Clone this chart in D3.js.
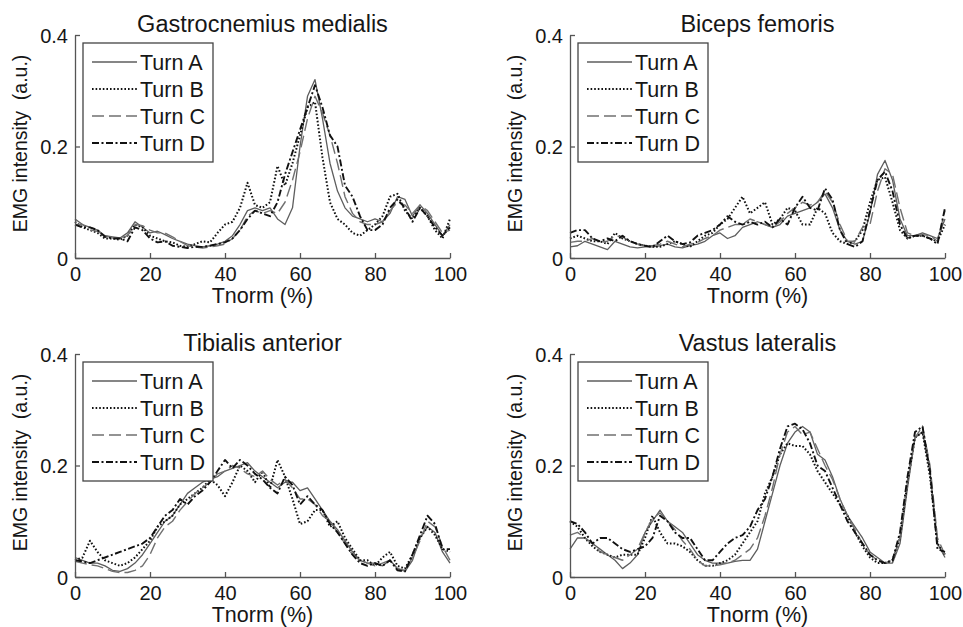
<!DOCTYPE html>
<html>
<head>
<meta charset="utf-8">
<script src="https://cdn.jsdelivr.net/npm/d3@7"></script>
<style>
  body { margin: 0; background: #fff; }
  text { font-family: "Liberation Sans", Arial, sans-serif; fill: #161616; }
</style>
</head>
<body>
<div id="chart"></div>
<script>
// Tnorm (%) sample points
var tnorm = [0,2,4,6,8,10,12,14,16,18,20,22,24,26,28,30,32,34,36,38,40,42,44,46,48,50,
             52,54,56,58,60,62,64,66,68,70,72,74,76,78,80,82,84,86,88,90,92,94,96,98,100];

var turns = ["Turn A", "Turn B", "Turn C", "Turn D"];
var titles = ["Gastrocnemius medialis", "Biceps femoris", "Tibialis anterior", "Vastus lateralis"];
var xTicks = [0, 20, 40, 60, 80, 100];
var yTicks = [0, 0.2, 0.4];

// Gastrocnemius medialis
var gmA = [0.07,0.06,0.055,0.05,0.04,0.038,0.036,0.045,0.065,0.055,0.045,0.048,0.042,0.035,0.03,0.025,0.022,0.02,0.022,0.025,0.03,0.04,0.06,0.085,0.09,0.085,
           0.09,0.07,0.06,0.09,0.2,0.29,0.32,0.25,0.17,0.12,0.09,0.075,0.07,0.065,0.07,0.065,0.08,0.11,0.105,0.075,0.095,0.08,0.06,0.04,0.06];
var gmB = [0.065,0.055,0.05,0.045,0.035,0.035,0.033,0.04,0.06,0.055,0.04,0.035,0.03,0.028,0.022,0.02,0.025,0.03,0.028,0.045,0.06,0.065,0.09,0.135,0.095,0.09,
           0.1,0.165,0.13,0.17,0.22,0.27,0.28,0.18,0.1,0.07,0.06,0.045,0.04,0.05,0.06,0.075,0.11,0.115,0.085,0.07,0.09,0.075,0.05,0.035,0.07];
var gmC = [0.06,0.06,0.05,0.048,0.04,0.036,0.035,0.04,0.06,0.058,0.05,0.045,0.045,0.038,0.03,0.022,0.02,0.018,0.02,0.022,0.025,0.035,0.05,0.075,0.085,0.08,
           0.085,0.08,0.1,0.14,0.19,0.25,0.29,0.26,0.22,0.17,0.11,0.08,0.065,0.06,0.06,0.065,0.085,0.1,0.095,0.08,0.095,0.085,0.065,0.045,0.05];
var gmD = [0.06,0.055,0.055,0.05,0.038,0.035,0.035,0.03,0.055,0.05,0.035,0.028,0.03,0.022,0.02,0.018,0.02,0.02,0.022,0.025,0.028,0.035,0.05,0.07,0.085,0.08,
           0.075,0.1,0.15,0.19,0.23,0.27,0.31,0.27,0.22,0.2,0.13,0.11,0.075,0.05,0.05,0.06,0.09,0.105,0.09,0.065,0.09,0.075,0.055,0.04,0.055];

// Biceps femoris
var bfA = [0.02,0.022,0.03,0.025,0.02,0.015,0.03,0.025,0.02,0.018,0.02,0.02,0.022,0.025,0.02,0.018,0.022,0.025,0.03,0.04,0.045,0.035,0.04,0.055,0.06,0.065,
           0.06,0.055,0.06,0.075,0.08,0.085,0.09,0.1,0.115,0.09,0.05,0.03,0.025,0.03,0.08,0.15,0.175,0.14,0.07,0.04,0.04,0.045,0.04,0.035,0.07];
var bfB = [0.035,0.04,0.035,0.03,0.03,0.025,0.045,0.035,0.03,0.025,0.022,0.02,0.02,0.025,0.03,0.025,0.02,0.03,0.04,0.045,0.06,0.07,0.09,0.11,0.08,0.09,
           0.1,0.06,0.07,0.09,0.085,0.06,0.06,0.09,0.08,0.045,0.03,0.025,0.03,0.05,0.1,0.14,0.145,0.1,0.05,0.035,0.04,0.04,0.035,0.03,0.06];
var bfC = [0.028,0.03,0.03,0.035,0.028,0.03,0.04,0.038,0.03,0.025,0.022,0.022,0.025,0.03,0.025,0.02,0.025,0.028,0.035,0.04,0.05,0.055,0.06,0.06,0.07,0.065,
           0.06,0.055,0.065,0.08,0.09,0.1,0.095,0.1,0.12,0.1,0.06,0.03,0.03,0.055,0.06,0.12,0.16,0.15,0.09,0.045,0.04,0.042,0.04,0.03,0.085];
var bfD = [0.045,0.05,0.05,0.035,0.03,0.035,0.03,0.04,0.03,0.025,0.022,0.02,0.03,0.04,0.03,0.025,0.028,0.04,0.045,0.05,0.06,0.075,0.065,0.06,0.065,0.06,
           0.065,0.055,0.07,0.06,0.09,0.11,0.09,0.085,0.125,0.105,0.05,0.025,0.02,0.03,0.085,0.14,0.155,0.12,0.06,0.035,0.04,0.04,0.035,0.025,0.09];

// Tibialis anterior
var taA = [0.035,0.03,0.025,0.025,0.02,0.012,0.01,0.015,0.025,0.04,0.06,0.08,0.1,0.11,0.13,0.15,0.16,0.17,0.175,0.18,0.19,0.195,0.2,0.205,0.19,0.18,
           0.17,0.16,0.17,0.17,0.155,0.16,0.14,0.12,0.1,0.085,0.065,0.045,0.03,0.025,0.025,0.02,0.03,0.015,0.01,0.03,0.07,0.09,0.08,0.045,0.025];
var taB = [0.03,0.035,0.065,0.045,0.03,0.025,0.02,0.025,0.035,0.05,0.065,0.09,0.1,0.11,0.13,0.14,0.15,0.16,0.175,0.165,0.145,0.17,0.2,0.19,0.17,0.19,
           0.16,0.21,0.18,0.14,0.095,0.1,0.12,0.12,0.09,0.1,0.07,0.05,0.03,0.03,0.02,0.035,0.045,0.02,0.015,0.04,0.07,0.09,0.075,0.05,0.045];
var taC = [0.028,0.025,0.022,0.02,0.015,0.01,0.008,0.008,0.012,0.02,0.04,0.07,0.09,0.1,0.12,0.135,0.15,0.16,0.17,0.185,0.19,0.2,0.195,0.185,0.18,0.19,
           0.175,0.165,0.175,0.16,0.14,0.14,0.13,0.11,0.1,0.08,0.06,0.04,0.03,0.025,0.02,0.025,0.03,0.015,0.012,0.035,0.065,0.1,0.09,0.055,0.03];
var taD = [0.03,0.028,0.025,0.03,0.035,0.04,0.045,0.05,0.055,0.06,0.07,0.09,0.11,0.12,0.14,0.13,0.145,0.155,0.17,0.19,0.21,0.195,0.21,0.2,0.185,0.175,
           0.16,0.15,0.18,0.165,0.13,0.145,0.13,0.12,0.095,0.08,0.06,0.04,0.025,0.02,0.025,0.02,0.03,0.012,0.01,0.04,0.075,0.11,0.095,0.05,0.05];

// Vastus lateralis
var vlA = [0.05,0.07,0.07,0.06,0.05,0.04,0.03,0.015,0.025,0.04,0.08,0.1,0.12,0.1,0.09,0.08,0.06,0.04,0.03,0.025,0.025,0.025,0.028,0.03,0.03,0.05,
           0.1,0.15,0.2,0.24,0.26,0.27,0.26,0.22,0.21,0.18,0.14,0.11,0.09,0.07,0.045,0.035,0.025,0.025,0.06,0.16,0.25,0.26,0.19,0.06,0.035];
var vlB = [0.1,0.09,0.07,0.055,0.045,0.04,0.035,0.04,0.04,0.04,0.07,0.11,0.08,0.06,0.06,0.055,0.045,0.03,0.02,0.02,0.025,0.03,0.04,0.06,0.08,0.1,
           0.15,0.18,0.22,0.24,0.235,0.235,0.22,0.19,0.17,0.15,0.13,0.11,0.08,0.055,0.035,0.025,0.025,0.03,0.07,0.17,0.25,0.26,0.18,0.06,0.04];
var vlC = [0.075,0.08,0.07,0.06,0.045,0.04,0.035,0.03,0.04,0.05,0.08,0.105,0.115,0.1,0.085,0.065,0.05,0.03,0.02,0.02,0.022,0.025,0.03,0.04,0.05,0.07,
           0.11,0.16,0.22,0.26,0.27,0.255,0.26,0.23,0.2,0.175,0.14,0.11,0.085,0.06,0.04,0.03,0.025,0.03,0.07,0.17,0.25,0.27,0.2,0.07,0.04];
var vlD = [0.1,0.095,0.08,0.06,0.07,0.07,0.06,0.05,0.045,0.05,0.055,0.07,0.11,0.1,0.08,0.07,0.07,0.05,0.03,0.03,0.045,0.06,0.07,0.075,0.09,0.12,
           0.14,0.18,0.23,0.27,0.275,0.265,0.24,0.2,0.19,0.16,0.13,0.1,0.08,0.06,0.04,0.03,0.025,0.03,0.08,0.18,0.26,0.27,0.19,0.05,0.045];

var panelData = [[gmA, gmB, gmC, gmD], [bfA, bfB, bfC, bfD], [taA, taB, taC, taD], [vlA, vlB, vlC, vlD]];

// line look for each turn (grey-scale, like the printed figure)
var styles = [
  { stroke: "#5e5e5e", width: 1.3, dash: null },
  { stroke: "#111", width: 2, dash: "1.6,2" },
  { stroke: "#707070", width: 1.4, dash: "12,5" },
  { stroke: "#111", width: 1.9, dash: "7,2.5,2,2.5" }
];

var W = 963, H = 627;
var svg = d3.select("#chart").append("svg").attr("width", W).attr("height", H);

var panelW = 375, panelH = 223;
var origins = [[75, 35], [570, 35], [75, 354], [570, 354]];

function drawPanel(i){
    var g = svg.append("g").attr("transform", "translate(" + origins[i][0] + "," + origins[i][1] + ")");
    var x = d3.scaleLinear().domain([0, 100]).range([0, panelW]);
    var y = d3.scaleLinear().domain([0, 0.4]).range([panelH, 0]);

    // curves first, axes on top
    var line = d3.line().x(function(d, k){ return x(tnorm[k]); }).y(function(d){ return y(d); });
    panelData[i].forEach(function(series, s){
        g.append("path")
          .datum(series)
          .attr("d", line)
          .attr("fill", "none")
          .attr("stroke", styles[s].stroke)
          .attr("stroke-width", styles[s].width)
          .attr("stroke-dasharray", styles[s].dash)
          .attr("stroke-linejoin", "round");
    });

    var xAxis = g.append("g").attr("transform", "translate(0," + panelH + ")")
        .call(d3.axisBottom(x).tickValues(xTicks).tickSizeInner(-5).tickSizeOuter(0).tickPadding(9));
    var yAxis = g.append("g")
        .call(d3.axisLeft(y).tickValues(yTicks).tickSizeInner(-5).tickSizeOuter(0).tickPadding(7)
              .tickFormat(function(d){ return d === 0 ? "0" : d3.format(".1f")(d); }));
    [xAxis, yAxis].forEach(function(a){
        a.selectAll("path, line").attr("stroke", "#555").attr("stroke-width", 1.3);
        a.selectAll("text").style("font-size", "20px").attr("fill", "#161616");
    });
    yAxis.selectAll("text").attr("dy", "0.36em");

    g.append("text")
      .attr("x", panelW / 2).attr("y", -3)
      .attr("text-anchor", "middle")
      .style("font-size", "23.5px")
      .text(titles[i]);

    g.append("text")
      .attr("x", panelW / 2).attr("y", panelH + 45)
      .attr("text-anchor", "middle")
      .style("font-size", "21.5px")
      .text("Tnorm (%)");

    g.append("text")
      .attr("transform", "translate(-48," + (panelH / 2 - 3) + ") rotate(-90)")
      .attr("text-anchor", "middle")
      .style("font-size", "19.5px")
      .style("white-space", "pre")
      .text("EMG intensity  (a.u.)");

    // legend
    var leg = g.append("g").attr("transform", "translate(8,8)");
    leg.append("rect")
      .attr("width", 130).attr("height", 119)
      .attr("fill", "#fff").attr("stroke", "#444").attr("stroke-width", 1.3);
    turns.forEach(function(t, s){
        var yy = 19 + s * 27;
        leg.append("line")
          .attr("x1", 9).attr("x2", 54).attr("y1", yy).attr("y2", yy)
          .attr("stroke", styles[s].stroke)
          .attr("stroke-width", styles[s].width)
          .attr("stroke-dasharray", styles[s].dash);
        leg.append("text")
          .attr("x", 57).attr("y", yy).attr("dy", "0.36em")
          .style("font-size", "21.5px")
          .text(t);
    });
}

for (var i = 0; i < 4; i++) drawPanel(i);
</script>
</body>
</html>
